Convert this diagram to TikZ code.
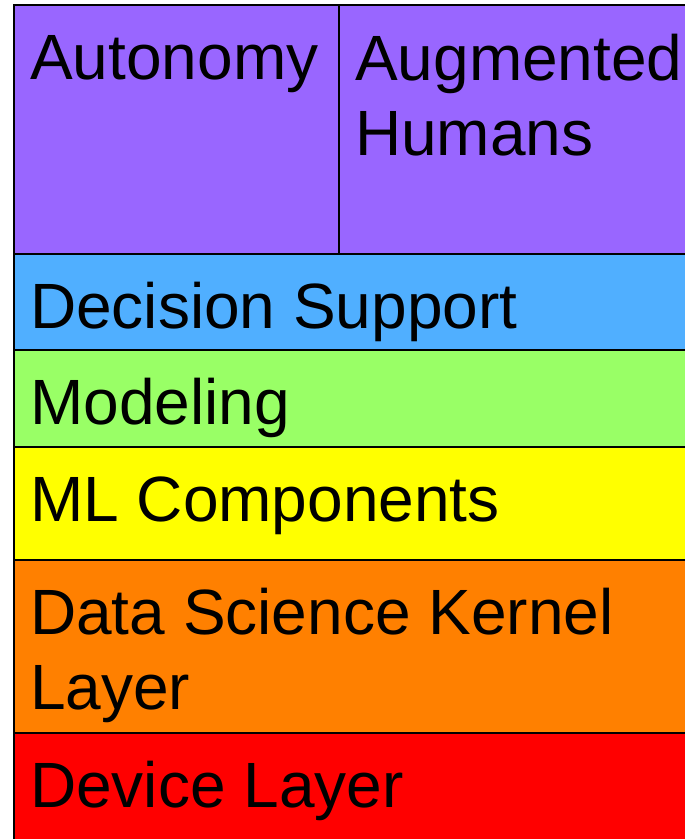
\documentclass[tikz,border=0pt]{standalone}
\usepackage{fontspec}
\setmainfont{Liberation Sans}
\definecolor{autoviolet}{HTML}{9966FF}
\definecolor{decblue}{HTML}{50AFFF}
\definecolor{modgreen}{HTML}{99FF66}
\definecolor{mlyellow}{HTML}{FFFF00}
\definecolor{kernorange}{HTML}{FF8000}
\definecolor{devred}{HTML}{FF0000}
\usetikzlibrary{positioning}

\begin{document}
\begin{tikzpicture}[x=1pt,y=-1pt,
  band/.style={draw=black,line width=2pt},
  lbl/.style={anchor=base west,inner sep=0pt,align=left,font=\fontsize{64}{75}\selectfont}]
\useasboundingbox (0,0) rectangle (685,839);
\clip (0,0) rectangle (685,839);
% layers, top to bottom
\filldraw[band,fill=autoviolet] (14,5) rectangle (700,254);
\filldraw[band,fill=decblue] (14,254) rectangle (700,350);
\filldraw[band,fill=modgreen] (14,350) rectangle (700,447);
\filldraw[band,fill=mlyellow] (14,447) rectangle (700,560);
\filldraw[band,fill=kernorange] (14,560) rectangle (700,733);
\filldraw[band,fill=devred] (14,733) rectangle (700,860);
\draw[band] (339,5) -- (339,254);
% labels (two-line ones sit on their last line)
\node[lbl] (auto) at (30,79) {Autonomy};
\node[lbl] (aug) at (355,155) {Augmented\\Humans};
\node[lbl] (dec) at (30,328) {Decision Support};
\node[lbl] (mod) at (30,424) {Modeling};
\node[lbl] (ml) at (30,521) {ML Components};
\node[lbl] (kern) at (30,709) {Data Science Kernel\\Layer};
\node[lbl] (dev) at (30,807) {Device Layer};
\end{tikzpicture}
\end{document}
